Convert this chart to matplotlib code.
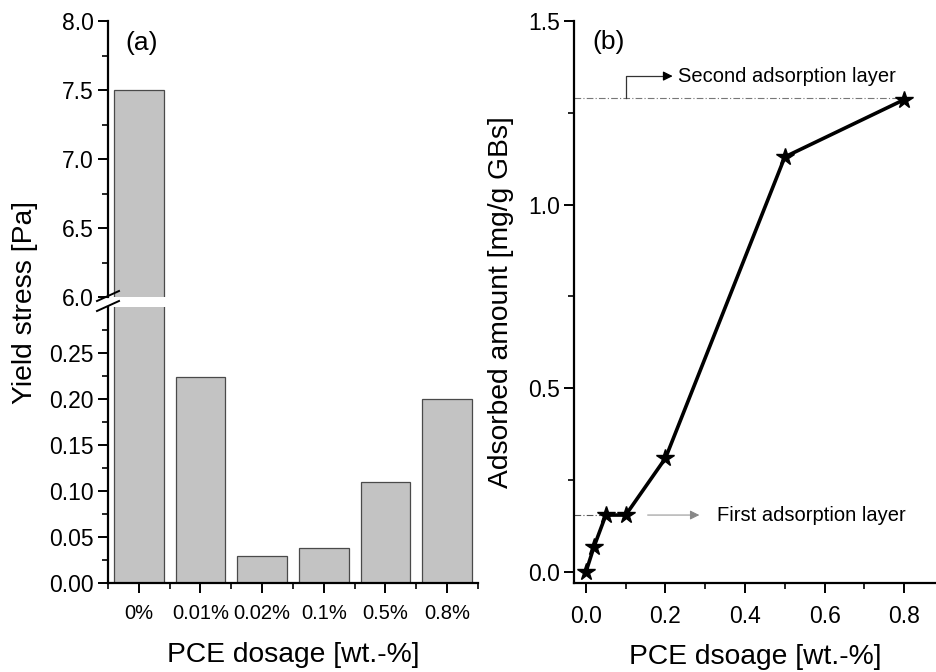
import matplotlib
matplotlib.use("Agg")
import matplotlib.pyplot as plt
import numpy as np

plt.rcParams['font.family'] = ['Liberation Sans', 'DejaVu Sans']

# ---- data ----
categories = ["0%", "0.01%", "0.02%", "0.1%", "0.5%", "0.8%"]
yield_stress = [7.5, 0.224, 0.029, 0.038, 0.110, 0.200]

dosage = [0.0, 0.02, 0.05, 0.1, 0.2, 0.5, 0.8]
adsorbed = [0.0, 0.068, 0.155, 0.155, 0.31, 1.13, 1.286]

first_layer = 0.155
second_layer = 1.29

W, H = 936, 672
fig = plt.figure(figsize=(W / 100, H / 100), dpi=100)

def rect(x0, y0, x1, y1):
    return [x0 / W, 1 - y1 / H, (x1 - x0) / W, (y1 - y0) / H]

bar_color = "#c3c3c3"
edge_color = "#4a4a4a"
xpos = np.arange(len(categories))
TICK_FS = 16.5
LABEL_FS = 20.3

ax_top = fig.add_axes(rect(108, 21, 478, 297))
ax_bot = fig.add_axes(rect(108, 307, 478, 583))

for ax in (ax_top, ax_bot):
    ax.bar(xpos, yield_stress, width=0.8, color=bar_color,
           edgecolor=edge_color, linewidth=0.9)
    ax.set_xlim(-0.5, 5.5)
    for s in ("top", "right"):
        ax.spines[s].set_visible(False)
    ax.spines["left"].set_linewidth(1.6)
    ax.tick_params(axis="y", direction="out", length=7, width=1.4,
                   labelsize=TICK_FS, pad=3)
    ax.tick_params(axis="y", which="minor", direction="out", length=4, width=1.2)

ax_top.set_ylim(6.0, 8.0)
ax_top.set_yticks([6.0, 6.5, 7.0, 7.5, 8.0])
ax_top.set_yticklabels(["6.0", "6.5", "7.0", "7.5", "8.0"])
ax_top.set_yticks(np.arange(6.25, 8.0, 0.5), minor=True)
ax_top.spines["bottom"].set_visible(False)
ax_top.tick_params(axis="x", which="both", bottom=False, labelbottom=False)
ax_top.text(0.046, 0.92, "(a)", transform=ax_top.transAxes, fontsize=19,
            va="center", ha="left")

ax_bot.set_ylim(0, 0.30)
ax_bot.set_yticks([0.0, 0.05, 0.10, 0.15, 0.20, 0.25])
ax_bot.set_yticklabels(["0.00", "0.05", "0.10", "0.15", "0.20", "0.25"])
ax_bot.set_yticks(np.arange(0.025, 0.30, 0.05), minor=True)
ax_bot.spines["bottom"].set_linewidth(1.6)
ax_bot.set_xticks(xpos)
ax_bot.set_xticklabels(categories)
ax_bot.set_xticks(np.arange(-0.5, 5.6, 1.0), minor=True)
ax_bot.tick_params(axis="x", direction="out", length=7, width=1.4,
                   labelsize=14.5, pad=8)
ax_bot.tick_params(axis="x", which="minor", direction="out", length=4, width=1.2)
ax_bot.set_xlabel("PCE dosage [wt.-%]", fontsize=LABEL_FS, labelpad=14)

fig.text(25 / W, 1 - 302 / H, "Yield stress [Pa]", rotation=90,
         fontsize=LABEL_FS, ha="center", va="center")

# break marks
for yb in (296, 306):
    fig.add_artist(plt.Line2D([97 / W, 119 / W], [1 - (yb + 5) / H, 1 - (yb - 5) / H],
                              color="black", linewidth=1.4))

# ---- right panel ----
ax2 = fig.add_axes(rect(574, 21, 936, 583))
ax2.plot(dosage, adsorbed, color="black", linewidth=2.6, marker="*",
         markersize=13, markerfacecolor="black", zorder=3)
ax2.set_xlim(-0.03, 0.88)
ax2.set_ylim(-0.03, 1.5)
for s in ("top", "right"):
    ax2.spines[s].set_visible(False)
ax2.spines["left"].set_linewidth(1.6)
ax2.spines["bottom"].set_linewidth(1.6)
ax2.set_xticks([0.0, 0.2, 0.4, 0.6, 0.8])
ax2.set_xticklabels(["0.0", "0.2", "0.4", "0.6", "0.8"])
ax2.set_xticks([0.1, 0.3, 0.5, 0.7], minor=True)
ax2.set_yticks([0.0, 0.5, 1.0, 1.5])
ax2.set_yticklabels(["0.0", "0.5", "1.0", "1.5"])
ax2.set_yticks([0.25, 0.75, 1.25], minor=True)
ax2.tick_params(axis="both", direction="out", length=7, width=1.4,
                labelsize=TICK_FS, pad=3)
ax2.tick_params(axis="x", pad=9)
ax2.tick_params(axis="both", which="minor", direction="out", length=4, width=1.2)
ax2.set_xlabel("PCE dsoage [wt.-%]", fontsize=LABEL_FS, labelpad=11)
ax2.set_ylabel("Adsorbed amount [mg/g GBs]", fontsize=LABEL_FS, labelpad=10)
ax2.text(0.05, 0.963, "(b)", transform=ax2.transAxes, fontsize=19,
         va="center", ha="left")

# reference lines
ax2.plot([-0.03, 0.8], [second_layer, second_layer], color="#777777",
         linewidth=0.8, linestyle=(0, (6, 2, 1, 2)), zorder=1)
ax2.plot([-0.03, 0.05], [first_layer, first_layer], color="#555555",
         linewidth=0.8, linestyle=(0, (6, 2, 1, 2)), zorder=1)

# second layer annotation
ax2.plot([0.10, 0.10, 0.21], [second_layer, 1.35, 1.35], color="#333333",
         linewidth=0.9)
ax2.annotate("", xy=(0.225, 1.35), xytext=(0.20, 1.35),
             arrowprops=dict(arrowstyle="-|>", color="black", lw=0.9,
                             mutation_scale=14))
ax2.text(0.232, 1.35, "Second adsorption layer", fontsize=14.5,
         va="center", ha="left")

# first layer annotation
ax2.annotate("", xy=(0.285, first_layer), xytext=(0.155, first_layer),
             arrowprops=dict(arrowstyle="-|>", color="#888888", lw=0.7,
                             mutation_scale=14, shrinkA=0, shrinkB=0))
ax2.text(0.33, first_layer, "First adsorption layer", fontsize=14.5,
         va="center", ha="left")

fig.savefig("out.png", dpi=100)
